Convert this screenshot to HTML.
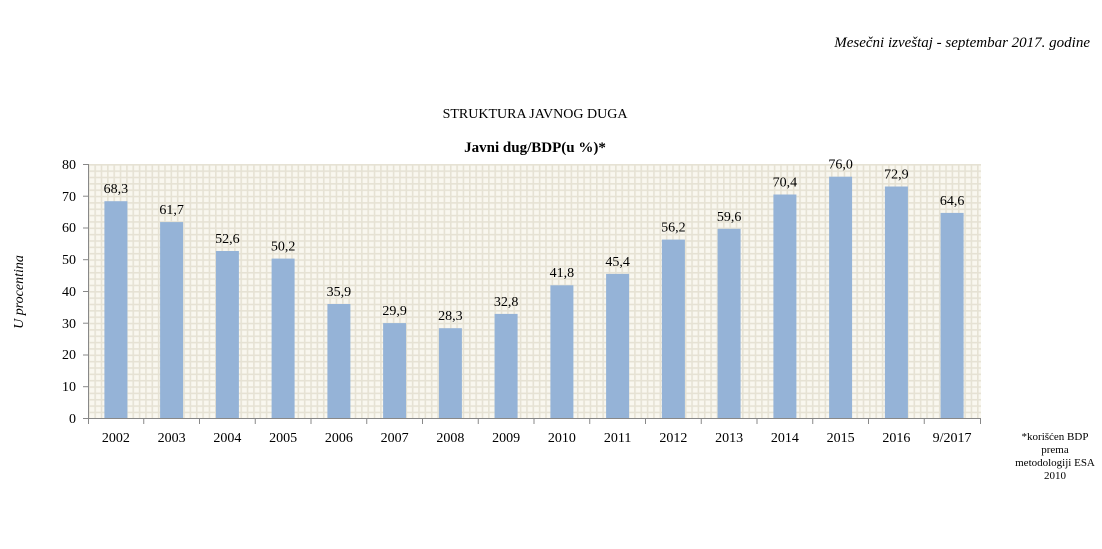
<!DOCTYPE html>
<html><head><meta charset="utf-8"><style>
body{margin:0;background:#fff;}
svg{display:block;font-family:"Liberation Serif",serif;}
</style></head><body>
<svg width="1102" height="549" xmlns="http://www.w3.org/2000/svg">
<defs>
<pattern id="g" width="6.35" height="6.35" patternUnits="userSpaceOnUse" x="88" y="164">
<rect width="6.35" height="6.35" fill="#f9f7ef"/>
<rect x="0" y="0" width="1.6" height="6.35" fill="#e6e2d4"/>
<rect x="0" y="0" width="6.35" height="1.6" fill="#e6e2d4"/>
</pattern>
</defs>
<text x="1090" y="47" text-anchor="end" font-size="15" font-style="italic">Mesečni izveštaj - septembar 2017. godine</text>
<text x="535" y="118" text-anchor="middle" font-size="14">STRUKTURA JAVNOG DUGA</text>
<text x="535" y="152" text-anchor="middle" font-size="15" font-weight="bold">Javni dug/BDP(u %)*</text>
<rect x="89" y="164" width="892" height="254" fill="url(#g)"/>
<text transform="translate(23,292) rotate(-90)" text-anchor="middle" font-size="14" font-style="italic">U procentina</text>
<g font-size="14" text-anchor="end">
<text x="76" y="423">0</text><text x="76" y="391">10</text><text x="76" y="359">20</text><text x="76" y="328">30</text><text x="76" y="296">40</text><text x="76" y="264">50</text><text x="76" y="232">60</text><text x="76" y="201">70</text><text x="76" y="169">80</text>
</g>
<g fill="#95b3d7">
<rect x="104.4" y="201.2" width="23" height="216.8"/>
<rect x="160.1" y="222.1" width="23" height="195.9"/>
<rect x="215.9" y="251" width="23" height="167"/>
<rect x="271.6" y="258.6" width="23" height="159.4"/>
<rect x="327.4" y="304" width="23" height="114"/>
<rect x="383.1" y="323.1" width="23" height="94.9"/>
<rect x="438.9" y="328.2" width="23" height="89.8"/>
<rect x="494.6" y="313.9" width="23" height="104.1"/>
<rect x="550.4" y="285.3" width="23" height="132.7"/>
<rect x="606.1" y="273.9" width="23" height="144.1"/>
<rect x="661.9" y="239.6" width="23" height="178.4"/>
<rect x="717.6" y="228.8" width="23" height="189.2"/>
<rect x="773.4" y="194.5" width="23" height="223.5"/>
<rect x="829.1" y="176.7" width="23" height="241.3"/>
<rect x="884.9" y="186.5" width="23" height="231.5"/>
<rect x="940.6" y="212.9" width="23" height="205.1"/>
</g>
<g font-size="14" text-anchor="middle">
<text x="115.9" y="193">68,3</text>
<text x="171.6" y="214">61,7</text>
<text x="227.4" y="243">52,6</text>
<text x="283.1" y="250.6">50,2</text>
<text x="338.9" y="296">35,9</text>
<text x="394.6" y="315">29,9</text>
<text x="450.4" y="320">28,3</text>
<text x="506.1" y="306">32,8</text>
<text x="561.9" y="277">41,8</text>
<text x="617.6" y="266">45,4</text>
<text x="673.4" y="231.6">56,2</text>
<text x="729.1" y="221">59,6</text>
<text x="784.9" y="186.5">70,4</text>
<text x="840.6" y="168.7">76,0</text>
<text x="896.4" y="178.5">72,9</text>
<text x="952.1" y="205">64,6</text>
</g>
<g font-size="14" text-anchor="middle">
<text x="115.9" y="442">2002</text><text x="171.6" y="442">2003</text><text x="227.4" y="442">2004</text><text x="283.1" y="442">2005</text>
<text x="338.9" y="442">2006</text><text x="394.6" y="442">2007</text><text x="450.4" y="442">2008</text><text x="506.1" y="442">2009</text>
<text x="561.9" y="442">2010</text><text x="617.6" y="442">2011</text><text x="673.4" y="442">2012</text><text x="729.1" y="442">2013</text>
<text x="784.9" y="442">2014</text><text x="840.6" y="442">2015</text><text x="896.4" y="442">2016</text><text x="952.1" y="442">9/2017</text>
</g>
<g stroke="#888" stroke-width="1">
<line x1="88.5" y1="164" x2="88.5" y2="418"/>
<line x1="83" y1="418.5" x2="981" y2="418.5"/>
<line x1="83" y1="386.7" x2="88" y2="386.7"/><line x1="83" y1="355" x2="88" y2="355"/><line x1="83" y1="323.2" x2="88" y2="323.2"/><line x1="83" y1="291.5" x2="88" y2="291.5"/><line x1="83" y1="259.7" x2="88" y2="259.7"/><line x1="83" y1="228" x2="88" y2="228"/><line x1="83" y1="196.2" x2="88" y2="196.2"/><line x1="83" y1="164.5" x2="88" y2="164.5"/>
<line x1="88.5" y1="418" x2="88.5" y2="424"/>
<line x1="143.75" y1="418" x2="143.75" y2="424"/><line x1="199.5" y1="418" x2="199.5" y2="424"/><line x1="255.25" y1="418" x2="255.25" y2="424"/><line x1="311" y1="418" x2="311" y2="424"/>
<line x1="366.75" y1="418" x2="366.75" y2="424"/><line x1="422.5" y1="418" x2="422.5" y2="424"/><line x1="478.25" y1="418" x2="478.25" y2="424"/><line x1="534" y1="418" x2="534" y2="424"/>
<line x1="589.75" y1="418" x2="589.75" y2="424"/><line x1="645.5" y1="418" x2="645.5" y2="424"/><line x1="701.25" y1="418" x2="701.25" y2="424"/><line x1="757" y1="418" x2="757" y2="424"/>
<line x1="812.75" y1="418" x2="812.75" y2="424"/><line x1="868.5" y1="418" x2="868.5" y2="424"/><line x1="924.25" y1="418" x2="924.25" y2="424"/><line x1="980.5" y1="418" x2="980.5" y2="424"/>
</g>
<g font-size="11" text-anchor="middle">
<text x="1055" y="440">*korišćen BDP</text>
<text x="1055" y="453">prema</text>
<text x="1055" y="466">metodologiji ESA</text>
<text x="1055" y="479">2010</text>
</g>
</svg>
</body></html>
